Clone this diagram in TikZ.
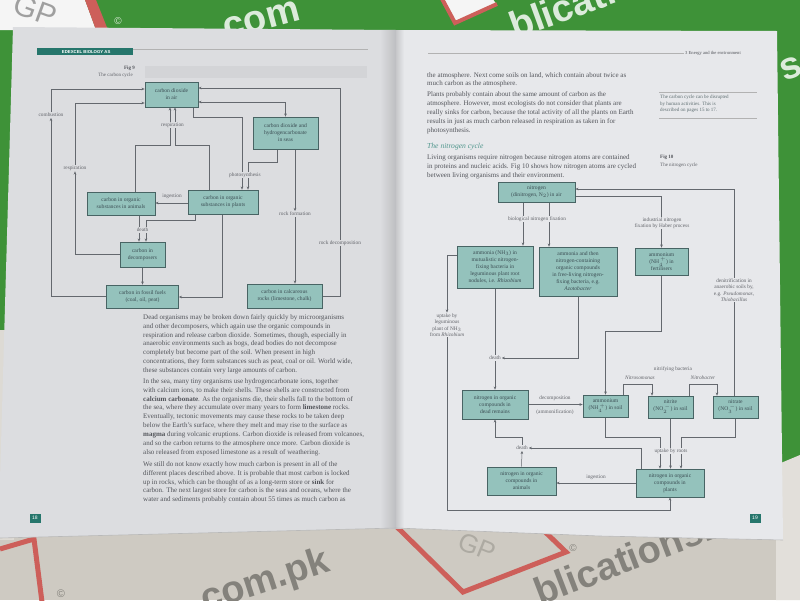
\documentclass[tikz,border=0pt]{standalone}
\usepackage{fontspec}
\setmainfont{Liberation Serif}
\newfontfamily\wmfont{Liberation Sans}
\usetikzlibrary{arrows.meta,calc}
\pgfdeclarelayer{bg}
\pgfdeclarelayer{lines}
\pgfsetlayers{bg,lines,main}
\definecolor{desk}{RGB}{62,146,56}
\definecolor{paperbg}{RGB}{206,202,194}
\definecolor{pagel}{RGB}{220,221,224}
\definecolor{pager}{RGB}{231,232,235}
\definecolor{boxfill}{RGB}{148,194,188}
\definecolor{boxline}{RGB}{72,100,100}
\definecolor{boxtxt}{RGB}{60,78,84}
\definecolor{txt}{RGB}{82,84,90}
\definecolor{lbl}{RGB}{98,100,106}
\definecolor{linec}{RGB}{100,104,110}
\definecolor{headteal}{RGB}{38,118,108}
\definecolor{headit}{RGB}{80,150,140}
\definecolor{wmred}{RGB}{205,95,90}
\definecolor{wmgray}{RGB}{132,130,124}
\newcommand{\bodyln}[4]{\node[body] (#1) at (#2,#3) {#4};}
\begin{document}
\begin{tikzpicture}[x=1pt,y=-1pt,
  arr/.style={draw=linec, line width=0.5pt, -{Stealth[length=3.2pt,width=2.6pt]}},
  ln/.style={draw=linec, line width=0.5pt},
  barr/.style={draw=linec, line width=0.5pt, {Stealth[length=3.2pt,width=2.6pt]}-{Stealth[length=3.2pt,width=2.6pt]}},
  cbox/.style={draw=boxline, fill=boxfill, line width=0.6pt, align=center, inner sep=0.5pt, text=boxtxt, font=\fontsize{5.6}{7}\selectfont},
  lab/.style={align=center, text=lbl, inner sep=0.8pt, font=\fontsize{5.3}{6.4}\selectfont},
  labl/.style={lab, fill=pagel},
  labr/.style={lab, fill=pager},
  body/.style={anchor=base west, inner sep=0pt, text=txt, font=\fontsize{7}{8}\selectfont},
  wm/.style={inner sep=0pt, font=\wmfont\bfseries\fontsize{38}{38}\selectfont},
  pgnum/.style={fill=headteal, text=white, inner sep=0pt, minimum width=11pt, minimum height=9pt, font=\wmfont\fontsize{5}{5}\selectfont},
]
\useasboundingbox (0,0) rectangle (800,600);

% ---------------- background scene ----------------
\begin{pgfonlayer}{bg}
\fill[desk] (0,0) rectangle (800,600);
% top-left paper corner
\fill[white!92!gray] (0,0) -- (85,0) -- (96,30) -- (0,30) -- cycle;
\fill[wmred] (85,0) -- (96,0) -- (108,30) -- (96,30) -- cycle;
\node[inner sep=0pt, rotate=-20, text=gray!75, font=\wmfont\fontsize{30}{30}\selectfont] (gptl) at (35,10) {GP};
\node[inner sep=0pt, text=white!80!desk, font=\wmfont\fontsize{10}{10}\selectfont] (copytl) at (118,21) {©};
% top watermarks on green
\node[wm, anchor=base west, rotate=15, text=white!82!desk] (wmcom) at (226,40) {com};
\fill[white!92!gray] (440,-5) -- (455,23) -- (497,5) -- (490,-5) -- cycle;
\draw[wmred, line width=4pt] (440,-5) -- (455,23) -- (497,4);
\node[wm, anchor=base west, rotate=20, text=white!82!desk] (wmbl) at (515,40) {blications};
\node[wm, anchor=base west, rotate=20, text=white!82!desk] (wms) at (784,82) {s};
% bottom paper
\fill[paperbg] (0,500) rectangle (800,600);
\fill[paperbg!70!white] (0,330) -- (14,330) -- (14,540) -- (0,540) -- cycle;
\fill[paperbg!60!white] (776,465) -- (800,455) -- (800,600) -- (776,600) -- cycle;
\draw[wmred, line width=5pt] (0,549) -- (34,539) -- (42,602);
\node[inner sep=0pt, text=wmgray, font=\wmfont\fontsize{11}{11}\selectfont] (copybl) at (61,594) {©};
\node[wm, anchor=base west, rotate=18, text=wmgray] (wmcompk) at (205,612) {com.pk};
\draw[wmred, line width=5pt] (397,527) -- (463,592) -- (566,552) -- (540,527);
\node[inner sep=0pt, rotate=-22, text=wmgray!45!paperbg, font=\wmfont\fontsize{26}{26}\selectfont] (gpbot) at (477,547) {GP};
\node[inner sep=0pt, text=wmgray, font=\wmfont\fontsize{10}{10}\selectfont] (copybr) at (573,548) {©};
\node[wm, anchor=base west, rotate=21, text=wmgray] (wmblic) at (540,606) {blications.co};
% pages
\fill[pagel] (13,27) -- (396,30) -- (396,528) -- (200,533) -- (0,538) -- (0,480) -- cycle;
\fill[pager] (396,30) -- (777,31) -- (783,540) -- (600,536) -- (396,528) -- cycle;
\shade[left color=pagel, right color=pagel!86!black] (380,30) rectangle (396,528);
\shade[left color=pager!86!black, right color=pager] (396,30) rectangle (404,528);
\draw[gray!55, line width=0.6pt] (0,538) -- (200,533) -- (396,528) -- (600,536) -- (783,540);
\end{pgfonlayer}

% ---------------- headers ----------------
\node[fill=headteal, text=white, anchor=west, inner sep=0pt, minimum width=96pt, minimum height=7.5pt, font=\wmfont\bfseries\fontsize{4.3}{4.3}\selectfont, text depth=0pt] (hdrl) at (37,51.5) {\hspace{2pt}EDEXCEL BIOLOGY AS\hfill};
\draw[gray!60, line width=0.5pt] (hdrl.east |- 0,49.5) -- (368,49.5);
\node[anchor=west, inner sep=1pt, text=txt, font=\fontsize{4.6}{5}\selectfont] (hdrr) at (684,53) {3 Energy and the environment};
\draw[gray!60, line width=0.5pt] (428,53) -- (hdrr.west);
\node[pgnum] (pg18) at (35,518) {18};
\node[pgnum] (pg19) at (755,518) {19};

% ---------------- left page: Fig 9 ----------------
\fill[pagel!96!black] (145,66) rectangle (367,78);
\node[anchor=east, inner sep=0pt, text=txt, font=\bfseries\fontsize{5}{5}\selectfont] (fig9) at (135,68.5) {Fig 9};
\node[anchor=east, inner sep=0pt, text=lbl, font=\fontsize{5}{5}\selectfont] (fig9t) at (133,75.5) {The carbon cycle};

\node[cbox, minimum width=53pt, minimum height=25pt] (cair) at (171.5,94.5) {carbon dioxide\\in air};
\node[cbox, minimum width=65pt, minimum height=32pt] (cseas) at (285.5,133) {carbon dioxide and\\hydrogencarbonate\\in seas};
\node[cbox, minimum width=68pt, minimum height=23pt] (canim) at (121,203.5) {carbon in organic\\substances in animals};
\node[cbox, minimum width=70pt, minimum height=24pt] (cplant) at (223,202) {carbon in organic\\substances in plants};
\node[cbox, minimum width=45pt, minimum height=25pt] (cdec) at (142.5,254.5) {carbon in\\decomposers};
\node[cbox, minimum width=72pt, minimum height=23pt] (cfoss) at (142.5,296.5) {carbon in fossil fuels\\(coal, oil, peat)};
\node[cbox, minimum width=75pt, minimum height=24pt] (crock) at (284.5,296) {carbon in calcareous\\rocks (limestone, chalk)};

\node[labl] (lcomb) at (51,115) {combustion};
\node[labl] (lresp1) at (75,168) {respiration};
\node[labl] (lresp2) at (172.5,125) {respiration};
\node[labl] (lphoto) at (245,175) {photosynthesis};
\node[lab] (lingc) at (172,196) {ingestion};
\node[labl] (ldeathc) at (142.5,230) {death};
\node[labl] (lrf) at (295,214) {rock formation};
\node[labl] (lrd) at (340,243) {rock decomposition};

\begin{pgfonlayer}{lines}
\draw[arr] (cfoss.west) -| (lcomb.south);
\draw[arr] (lcomb.north) |- (cair.west |- 0,89);
\draw[arr] (cdec.west) -| (lresp1.south);
\draw[arr] (lresp1.north) |- (cair.west |- 0,103);
\draw[arr] (canim.north -| 135,0) -- (135,145) -| (cair.south -| 170,0);
\draw[arr] (cplant.north -| 209,0) -- (209,145) -| (cair.south -| 175,0);
\draw[barr] (cair.east |- 0,102) -| (cseas.north);
\draw[ln] (crock.east) -| (lrd.south);
\draw[arr] (lrd.north) |- (cair.east |- 0,88);
\draw[arr] (cair.south -| 193,0) -- (193,117) -| (cplant.north -| 242,0);
\draw[arr] (cseas.south -| 277,0) -- (277,162) -| (cplant.north -| 248,0);
\draw[arr] (cseas.south -| 295,0) -- (lrf.north);
\draw[arr] (lrf.south) -- (crock.north -| 295,0);
\draw[arr] (cplant.west |- 0,203) -- (canim.east |- 0,203);
\draw[arr] (canim.south -| 139,0) -- (cdec.north -| 139,0);
\draw[arr] (cplant.south -| 195,0) -- (195,220) -| (cdec.north -| 146,0);
\draw[arr] (cdec.south) -- (cfoss.north);
\draw[arr] (cplant.south -| 222,0) |- (cfoss.east |- 0,297);
\end{pgfonlayer}

% ---------------- left page text ----------------
\bodyln{a1}{143}{319.3}{Dead organisms may be broken down fairly quickly by microorganisms}
\bodyln{a2}{143}{328.2}{and other decomposers, which again use the organic compounds in}
\bodyln{a3}{143}{337.0}{respiration and release carbon dioxide. Sometimes, though, especially in}
\bodyln{a4}{143}{345.9}{anaerobic environments such as bogs, dead bodies do not decompose}
\bodyln{a5}{143}{354.7}{completely but become part of the soil. When present in high}
\bodyln{a6}{143}{363.6}{concentrations, they form substances such as peat, coal or oil. World wide,}
\bodyln{a7}{143}{372.4}{these substances contain very large amounts of carbon.}
\bodyln{b1}{143}{383.3}{In the sea, many tiny organisms use hydrogencarbonate ions, together}
\bodyln{b2}{143}{392.2}{with calcium ions, to make their shells. These shells are constructed from}
\bodyln{b3}{143}{401.0}{\textbf{calcium carbonate}. As the organisms die, their shells fall to the bottom of}
\bodyln{b4}{143}{409.9}{the sea, where they accumulate over many years to form \textbf{limestone} rocks.}
\bodyln{b5}{143}{418.7}{Eventually, tectonic movements may cause these rocks to be taken deep}
\bodyln{b6}{143}{427.6}{below the Earth's surface, where they melt and may rise to the surface as}
\bodyln{b7}{143}{436.4}{\textbf{magma} during volcanic eruptions. Carbon dioxide is released from volcanoes,}
\bodyln{b8}{143}{445.3}{and so the carbon returns to the atmosphere once more. Carbon dioxide is}
\bodyln{b9}{143}{454.1}{also released from exposed limestone as a result of weathering.}
\bodyln{c1}{143}{466.3}{We still do not know exactly how much carbon is present in all of the}
\bodyln{c2}{143}{475.2}{different places described above. It is probable that most carbon is locked}
\bodyln{c3}{143}{484.0}{up in rocks, which can be thought of as a long-term store or \textbf{sink} for}
\bodyln{c4}{143}{492.9}{carbon. The next largest store for carbon is the seas and oceans, where the}
\bodyln{c5}{143}{501.7}{water and sediments probably contain about 55 times as much carbon as}

% ---------------- right page text ----------------
\bodyln{d1}{427}{77.3}{the atmosphere. Next come soils on land, which contain about twice as}
\bodyln{d2}{427}{85.8}{much carbon as the atmosphere.}
\bodyln{e1}{427}{96.3}{Plants probably contain about the same amount of carbon as the}
\bodyln{e2}{427}{105.3}{atmosphere. However, most ecologists do not consider that plants are}
\bodyln{e3}{427}{114.3}{really sinks for carbon, because the total activity of all the plants on Earth}
\bodyln{e4}{427}{123.3}{results in just as much carbon released in respiration as taken in for}
\bodyln{e5}{427}{132.3}{photosynthesis.}
\node[anchor=base west, inner sep=0pt, text=headit, font=\itshape\fontsize{7.6}{8}\selectfont] (nhead) at (427,148) {The nitrogen cycle};
\bodyln{f1}{427}{159.3}{Living organisms require nitrogen because nitrogen atoms are contained}
\bodyln{f2}{427}{168.3}{in proteins and nucleic acids. Fig 10 shows how nitrogen atoms are cycled}
\bodyln{f3}{427}{177.3}{between living organisms and their environment.}

\draw[gray!60, line width=0.5pt] (659,92) -- (757,92);
\node[anchor=north west, inner sep=0pt, align=left, text=lbl!80!headit, font=\fontsize{5}{6.6}\selectfont] (note) at (660,95) {The carbon cycle can be disrupted\\by human activities. This is\\described on pages 15 to 17.};
\draw[gray!60, line width=0.5pt] (659,118) -- (757,118);
\node[anchor=west, inner sep=0pt, text=txt, font=\bfseries\fontsize{5}{5}\selectfont] (fig10) at (660,157.5) {Fig 10};
\node[anchor=west, inner sep=0pt, text=lbl, font=\fontsize{5}{5}\selectfont] (fig10t) at (660,165) {The nitrogen cycle};

% ---------------- right page: Fig 10 ----------------
\node[cbox, minimum width=77pt, minimum height=20pt] (nair) at (536.5,192) {nitrogen\\(dinitrogen, N$_2$) in air};
\node[cbox, minimum width=76pt, minimum height=42pt] (nrhiz) at (495,267) {ammonia (NH$_3$) in\\mutualistic nitrogen-\\fixing bacteria in\\leguminous plant root\\nodules, i.e. \textit{Rhizobium}};
\node[cbox, minimum width=78pt, minimum height=49pt] (nazo) at (578,271.5) {ammonia and then\\nitrogen-containing\\organic compounds\\in free-living nitrogen-\\fixing bacteria, e.g.\\\textit{Azotobacter}};
\node[cbox, minimum width=53pt, minimum height=27pt] (nfert) at (661.5,261.5) {ammonium\\(NH$_4^{\,+}$) in\\fertilisers};
\node[cbox, minimum width=66pt, minimum height=29pt] (ndead) at (495,404.5) {nitrogen in organic\\compounds in\\dead remains};
\node[cbox, minimum width=45pt, minimum height=22pt] (nammo) at (605.5,406) {ammonium\\(NH$_4^{\,+}$) in soil};
\node[cbox, minimum width=45pt, minimum height=22pt] (nnitrite) at (670.5,407) {nitrite\\(NO$_2^{\,-}$) in soil};
\node[cbox, minimum width=45pt, minimum height=22pt] (nnitrate) at (735.5,407) {nitrate\\(NO$_3^{\,-}$) in soil};
\node[cbox, minimum width=68pt, minimum height=28pt] (nplants) at (670,483) {nitrogen in organic\\compounds in\\plants};
\node[cbox, minimum width=69pt, minimum height=28pt] (nanimals) at (521.5,481) {nitrogen in organic\\compounds in\\animals};

\node[labr] (lbio) at (537,219) {biological nitrogen fixation};
\node[labr] (lind) at (662,223) {industrial nitrogen\\fixation by Haber process};
\node[labr] (lden) at (734,290) {denitrification in\\anaerobic soils by,\\e.g. \textit{Pseudomonas},\\\textit{Thiobacillus}};
\node[labr] (lupt) at (447,325) {uptake by\\leguminous\\plant of NH$_3$\\from \textit{Rhizobium}};
\node[labr] (ldeath1) at (495,358) {death};
\node[lab] (ldecomp) at (555,398) {decomposition};
\node[lab] (lammon) at (555,412.5) {(ammonification)};
\node[lab] (lnitr) at (673,369) {nitrifying bacteria};
\node[lab, font=\itshape\fontsize{5.3}{6.4}\selectfont] (lnso) at (640,377.5) {Nitrosomonas};
\node[lab, font=\itshape\fontsize{5.3}{6.4}\selectfont] (lnb) at (703,377.5) {Nitrobacter};
\node[labr] (lroots) at (671,451) {uptake by roots};
\node[lab] (lingn) at (596,477) {ingestion};
\node[labr] (ldeath2) at (522,448) {death};

\begin{pgfonlayer}{lines}
\draw[arr] (nair.south -| 523,0) -- (nrhiz.north -| 523,0);
\draw[arr] (nair.south -| 549,0) -- (nazo.north -| 549,0);
\draw[arr] (nair.east |- 0,196) -| (nfert.north);
\draw[arr] (nnitrate.north -| 734,0) |- (nair.east |- 0,189);
\draw[arr] (nrhiz.west |- 0,255) -| (lupt.north);
\draw[arr] (lupt.south) -- (447,510) -| (nplants.south);
\draw[arr] (nazo.south) |- (ldeath1.east);
\draw[arr] (nrhiz.south) -- (ndead.north);
\draw[arr] (ndead.east) -- (nammo.west |- ndead.east);
\draw[arr] (nfert.south) -- (661.5,331) -| (nammo.north);
\draw[arr] (nammo.north -| 623,0) -- (623,384) -| (nnitrite.north -| 652,0);
\draw[arr] (nnitrite.north -| 689,0) -- (689,384) -| (nnitrate.north -| 717,0);
\draw[arr] (nammo.south) -- (605.5,437) -| (nplants.north -| 660,0);
\draw[arr] (nnitrite.south) -- (nnitrite.south |- nplants.north);
\draw[arr] (nnitrate.south) -- (735.5,437) -| (nplants.north -| 681,0);
\draw[arr] (nplants.west) -- (nanimals.east |- nplants.west);
\draw[arr] (nplants.north -| 641,0) |- (ldeath2.east);
\draw[arr] (nanimals.north) -- (ldeath2.south);
\draw[arr] (ldeath2.north) -- (522,437) -| (ndead.south);
\end{pgfonlayer}
\end{tikzpicture}
\end{document}
